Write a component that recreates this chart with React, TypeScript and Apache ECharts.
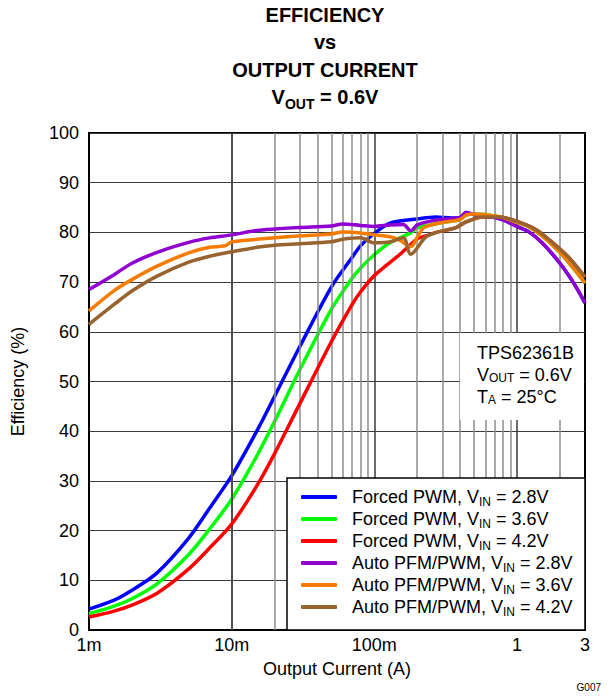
import React, { useEffect, useRef } from "react";
import * as echarts from "echarts";

const FONT = '"Liberation Sans", Arial, Helvetica, sans-serif';

// Output current (A) and efficiency (%) for each operating mode / input voltage
const forced28I = [0.001, 0.0015, 0.002, 0.003, 0.005, 0.007, 0.01, 0.015, 0.02, 0.03, 0.05, 0.07, 0.08, 0.1, 0.13, 0.2, 0.27, 0.35, 0.4, 0.44, 0.5, 0.6, 0.7, 0.8, 1.0, 1.2, 1.5, 2.0, 2.5, 3.0];
const forced28E = [4.2, 6.0, 8.0, 11.5, 18.5, 24.5, 31.0, 40.0, 47.0, 57.0, 69.0, 75.0, 77.3, 79.8, 81.9, 82.7, 83.1, 82.9, 83.0, 84.0, 83.6, 83.3, 83.0, 82.5, 81.2, 80.2, 77.9, 73.8, 69.8, 65.8];

const forced36I = [0.001, 0.0015, 0.002, 0.003, 0.005, 0.007, 0.01, 0.015, 0.02, 0.03, 0.05, 0.07, 0.08, 0.1, 0.13, 0.18, 0.2, 0.25, 0.3, 0.4, 0.44, 0.5, 0.6, 0.7, 0.8, 1.0, 1.2, 1.5, 2.0, 2.5, 3.0];
const forced36E = [3.3, 4.8, 6.3, 9.3, 15.2, 20.3, 26.3, 35.0, 42.0, 52.3, 64.5, 70.8, 72.8, 75.5, 78.0, 79.9, 80.9, 81.5, 82.0, 82.6, 83.5, 83.7, 83.6, 83.3, 83.0, 82.0, 81.2, 79.3, 76.0, 72.7, 69.8];

const forced42I = [0.001, 0.0015, 0.002, 0.003, 0.005, 0.007, 0.01, 0.015, 0.02, 0.03, 0.05, 0.07, 0.08, 0.1, 0.15, 0.2, 0.23, 0.28, 0.37, 0.44, 0.57, 0.75, 1.0, 1.37, 1.75, 2.3, 3.0];
const forced42E = [2.6, 3.8, 5.0, 7.4, 12.3, 16.5, 21.3, 29.0, 35.5, 45.5, 58.0, 65.5, 68.0, 71.3, 75.5, 78.7, 79.3, 80.1, 80.9, 82.1, 83.1, 83.1, 82.2, 80.5, 78.1, 75.0, 71.0];

const auto28I = [0.001, 0.0015, 0.002, 0.003, 0.005, 0.007, 0.01, 0.015, 0.02, 0.03, 0.05, 0.06, 0.08, 0.1, 0.13, 0.16, 0.18, 0.2, 0.25, 0.3, 0.4, 0.44, 0.5, 0.6, 0.7, 0.8, 1.0, 1.2, 1.5, 2.0, 2.5, 3.0];
const auto28E = [68.5, 71.5, 73.8, 76.0, 78.0, 78.9, 79.5, 80.4, 80.7, 81.0, 81.3, 81.7, 81.4, 81.2, 81.5, 81.6, 80.3, 81.5, 82.3, 82.6, 83.0, 84.0, 83.6, 83.3, 83.0, 82.5, 81.2, 80.2, 77.9, 73.8, 69.8, 65.8];

const auto36I = [0.001, 0.0015, 0.002, 0.003, 0.005, 0.007, 0.009, 0.01, 0.015, 0.02, 0.03, 0.05, 0.06, 0.08, 0.1, 0.13, 0.15, 0.18, 0.2, 0.22, 0.25, 0.3, 0.4, 0.44, 0.5, 0.6, 0.7, 0.8, 1.0, 1.2, 1.5, 2.0, 2.5, 3.0];
const auto36E = [64.2, 68.3, 70.5, 73.2, 75.9, 77.0, 77.3, 78.1, 78.6, 78.9, 79.3, 79.7, 80.1, 79.9, 79.5, 79.1, 78.5, 77.1, 79.0, 80.9, 81.5, 82.0, 82.6, 83.5, 83.7, 83.6, 83.3, 83.0, 82.0, 81.2, 79.3, 76.0, 72.7, 69.8];

const auto42I = [0.001, 0.0015, 0.002, 0.003, 0.005, 0.007, 0.01, 0.015, 0.02, 0.03, 0.05, 0.06, 0.08, 0.1, 0.13, 0.16, 0.18, 0.23, 0.28, 0.37, 0.44, 0.57, 0.75, 1.0, 1.37, 1.75, 2.3, 3.0];
const auto42E = [61.5, 65.5, 68.2, 71.2, 74.0, 75.2, 76.1, 77.0, 77.4, 77.7, 78.1, 78.6, 78.9, 77.9, 78.1, 78.9, 75.6, 79.1, 80.1, 80.9, 82.1, 83.1, 83.1, 82.2, 80.5, 78.1, 75.0, 71.0];

const seriesNames = [
  "Forced PWM, VIN = 2.8V",
  "Forced PWM, VIN = 3.6V",
  "Forced PWM, VIN = 4.2V",
  "Auto PFM/PWM, VIN = 2.8V",
  "Auto PFM/PWM, VIN = 3.6V",
  "Auto PFM/PWM, VIN = 4.2V",
];
const seriesColors = ["#0000ff", "#00ff00", "#ff0000", "#9000d0", "#f57c00", "#97632f"];
const seriesCurrents = [forced28I, forced36I, forced42I, auto28I, auto36I, auto42I];
const seriesEfficiency = [forced28E, forced36E, forced42E, auto28E, auto36E, auto42E];

// Axis ticks and vertical grid lines
const xLabelValues = [0.001, 0.01, 0.1, 1, 3];
const xMinorGrid = [0.002, 0.003, 0.004, 0.005, 0.006, 0.007, 0.008, 0.009, 0.02, 0.03, 0.04, 0.05, 0.06, 0.07, 0.08, 0.09, 0.2, 0.3, 0.4, 0.5, 0.6, 0.7, 0.8, 0.9, 2];
const xMajorGrid = [0.01, 0.1, 1];

const fmtCurrent = (v: number) => (v >= 1 ? String(Math.round(v)) : Math.round(v * 1000) + "m");

export default function App() {
  const ref = useRef<HTMLDivElement>(null);

  useEffect(() => {
    if (!ref.current) return;
    const chart = echarts.init(ref.current, null, { renderer: "svg" });

    const curves = seriesNames.map((name, i) => ({
      name,
      type: "line",
      data: seriesCurrents[i].map((c, j) => [c, seriesEfficiency[i][j]]),
      symbol: "none",
      smooth: 0.3,
      z: 3 + i,
      lineStyle: { color: seriesColors[i], width: 3.5 },
      itemStyle: { color: seriesColors[i] },
    }));

    const gridSeries = {
      name: "grid",
      type: "line",
      data: [],
      z: 1,
      silent: true,
      markLine: {
        silent: true,
        symbol: ["none", "none"],
        label: { show: false },
        emphasis: { disabled: true },
        data: [
          ...xMinorGrid.map((v) => ({ xAxis: v, lineStyle: { color: "#8c8c8c", width: 1.5, type: "solid" } })),
          ...xMajorGrid.map((v) => ({ xAxis: v, lineStyle: { color: "#3a3a3a", width: 1.5, type: "solid" } })),
        ],
      },
    };

    const subRich = { fontSize: 12, fontFamily: FONT, verticalAlign: "bottom", lineHeight: 12, color: "#000" };

    chart.setOption({
      animation: false,
      backgroundColor: "#fff",
      textStyle: { fontFamily: FONT },
      title: {
        text: "EFFICIENCY\nvs\nOUTPUT CURRENT\nV{sub|OUT} = 0.6V",
        left: 325,
        top: 1,
        padding: 0,
        textAlign: "center",
        textStyle: {
          fontFamily: FONT,
          fontSize: 20,
          fontWeight: "bold",
          lineHeight: 27.5,
          color: "#000",
          rich: {
            sub: { fontFamily: FONT, fontSize: 14, fontWeight: "bold", verticalAlign: "bottom", lineHeight: 15, color: "#000" },
          },
        },
      },
      grid: {
        left: 89,
        right: 24,
        top: 133,
        bottom: 66,
        show: true,
        borderColor: "#000",
        borderWidth: 2,
        containLabel: false,
      },
      xAxis: {
        type: "log",
        logBase: 10,
        min: 0.001,
        max: 3,
        name: "Output Current (A)",
        nameLocation: "middle",
        nameGap: 30,
        nameTextStyle: { fontFamily: FONT, fontSize: 18, color: "#000" },
        axisLine: { show: true, lineStyle: { color: "#000", width: 2 } },
        axisTick: { show: false },
        splitLine: { show: false },
        axisLabel: {
          customValues: xLabelValues,
          formatter: (v: number) => fmtCurrent(v),
          fontFamily: FONT,
          fontSize: 18,
          color: "#000",
          margin: 6,
        },
      },
      yAxis: {
        type: "value",
        min: 0,
        max: 100,
        interval: 10,
        name: "Efficiency (%)",
        nameLocation: "middle",
        nameGap: 62,
        nameTextStyle: { fontFamily: FONT, fontSize: 18, color: "#000" },
        axisLine: { show: true, lineStyle: { color: "#000", width: 2 } },
        axisTick: { show: false },
        splitLine: { show: true, lineStyle: { color: "#3a3a3a", width: 1.2 } },
        axisLabel: { fontFamily: FONT, fontSize: 18, color: "#000", margin: 10 },
      },
      legend: {
        data: seriesNames,
        orient: "vertical",
        left: 301,
        top: 486,
        z: 100,
        icon: "roundRect",
        itemWidth: 36,
        itemHeight: 4,
        itemGap: 0,
        padding: 0,
        selectedMode: false,
        formatter: (name: string) => name.replace("VIN", "V{sub|IN}"),
        textStyle: {
          fontFamily: FONT,
          fontSize: 18,
          color: "#000",
          lineHeight: 22,
          padding: [0, 0, 0, 10],
          rich: { sub: subRich },
        },
      },
      graphic: [
        {
          type: "rect",
          z: 50,
          shape: { x: 287, y: 478, width: 298, height: 152 },
          style: { fill: "#fff", stroke: "#000", lineWidth: 1.5 },
        },
        {
          type: "rect",
          z: 50,
          shape: { x: 460, y: 333, width: 124, height: 87 },
          style: { fill: "#fff", stroke: null },
        },
        {
          type: "text",
          z: 60,
          x: 477,
          y: 353,
          style: { text: "TPS62361B", font: `18px ${FONT}`, fill: "#000", verticalAlign: "middle" },
        },
        {
          type: "text",
          z: 60,
          x: 477,
          y: 375,
          style: {
            text: "V{sub|OUT} = 0.6V",
            font: `18px ${FONT}`,
            fill: "#000",
            verticalAlign: "middle",
            rich: { sub: { font: `12px ${FONT}`, fill: "#000", verticalAlign: "bottom", lineHeight: 12 } },
          },
        },
        {
          type: "text",
          z: 60,
          x: 477,
          y: 397,
          style: {
            text: "T{sub|A} = 25°C",
            font: `18px ${FONT}`,
            fill: "#000",
            verticalAlign: "middle",
            rich: { sub: { font: `12px ${FONT}`, fill: "#000", verticalAlign: "bottom", lineHeight: 12 } },
          },
        },
        {
          type: "text",
          z: 60,
          right: 8,
          top: 682,
          style: { text: "G007", font: `10px ${FONT}`, fill: "#000" },
        },
      ],
      series: [gridSeries, ...curves],
    });

    return () => chart.dispose();
  }, []);

  return (
    <div
      ref={ref}
      style={{ position: "fixed", left: 0, top: 0, width: 609, height: 696, background: "#fff" }}
    />
  );
}
